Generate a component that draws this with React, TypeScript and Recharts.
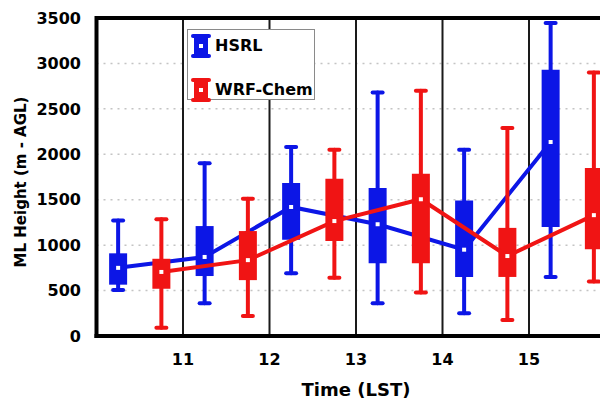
import React from 'react';
import {
  ComposedChart,
  XAxis,
  YAxis,
  CartesianGrid,
  Scatter,
  Line,
  ErrorBar,
  ReferenceLine,
  Label,
  Legend,
} from 'recharts';

// ---- data ----
const hsrlTimes = [10.25, 11.25, 12.25, 13.25, 14.25, 15.25];
const hsrlMin = [505, 360, 690, 360, 250, 650];
const hsrlQ1 = [565, 660, 1060, 800, 650, 1200];
const hsrlMed = [750, 870, 1420, 1230, 950, 2135];
const hsrlQ3 = [910, 1210, 1685, 1630, 1490, 2930];
const hsrlMax = [1270, 1900, 2080, 2680, 2050, 3445];

const wrfTimes = [10.75, 11.75, 12.75, 13.75, 14.75, 15.75];
const wrfMin = [90, 220, 640, 480, 175, 600];
const wrfQ1 = [520, 615, 1045, 800, 650, 955];
const wrfMed = [705, 835, 1265, 1505, 880, 1330];
const wrfQ3 = [850, 1155, 1730, 1785, 1190, 1850];
const wrfMax = [1285, 1510, 2050, 2700, 2290, 2900];

const xTicks = [11, 12, 13, 14, 15];
const yTicks = [0, 500, 1000, 1500, 2000, 2500, 3000, 3500];
const seriesNames = ['HSRL', 'WRF-Chem'];

const BLUE = '#0c16e6';
const RED = '#f01414';
const FONT = '"DejaVu Sans", Verdana, sans-serif';

function buildRows(t: number[], mn: number[], q1: number[], md: number[], q3: number[], mx: number[]) {
  return t.map((x, i) => ({
    x,
    med: md[i],
    whisk: [md[i] - mn[i], mx[i] - md[i]],
    box: [md[i] - q1[i], q3[i] - md[i]],
  }));
}

const hsrlRows = buildRows(hsrlTimes, hsrlMin, hsrlQ1, hsrlMed, hsrlQ3, hsrlMax);
const wrfRows = buildRows(wrfTimes, wrfMin, wrfQ1, wrfMed, wrfQ3, wrfMax);

const emptyShape = () => <g />;
const medianMarker = (p: any) => (
  <rect x={p.cx - 2} y={p.cy - 2} width={4} height={4} fill="#ffffff" />
);

const tickStyle = { fill: '#000', fontSize: 16, fontWeight: 'bold', fontFamily: FONT };

function LegendIcon({ color }: { color: string }) {
  return (
    <svg width={22} height={26} style={{ position: 'absolute', left: 0, top: 0 }}>
      <line x1={3} y1={3} x2={19} y2={3} stroke={color} strokeWidth={4} strokeLinecap="round" />
      <line x1={3} y1={23} x2={19} y2={23} stroke={color} strokeWidth={4} strokeLinecap="round" />
      <rect x={4} y={4} width={14} height={18} fill={color} />
      <rect x={9} y={11} width={4} height={4} fill="#fff" />
    </svg>
  );
}

function renderLegend() {
  const colors = [BLUE, RED];
  const tops = [3, 47];
  return (
    <div
      style={{
        position: 'relative',
        width: 126,
        height: 69,
        border: '1px solid #8a8a8a',
        background: '#fff',
        boxSizing: 'content-box',
      }}
    >
      {seriesNames.map((n, i) => (
        <div key={n} style={{ position: 'absolute', left: 2, top: tops[i], height: 26, width: 124 }}>
          <LegendIcon color={colors[i]} />
          <span
            style={{
              position: 'absolute',
              left: 25,
              top: 2,
              fontFamily: FONT,
              fontWeight: 'bold',
              fontSize: 16,
              lineHeight: '22px',
              color: '#000',
              whiteSpace: 'nowrap',
            }}
          >
            {n}
          </span>
        </div>
      ))}
    </div>
  );
}

export default function App() {
  return (
    <div style={{ width: 600, height: 392, overflow: 'hidden', position: 'relative' }}>
      <ComposedChart width={620} height={392} margin={{ top: 10, right: 12.5, bottom: 0, left: 0 }}>
        <CartesianGrid
          vertical={false}
          stroke="#c4c4c4"
          strokeWidth={1.5}
          strokeDasharray="2 5"
        />
        {xTicks.map((t) => (
          <ReferenceLine key={t} x={t} stroke="#1a1a1a" strokeWidth={2} />
        ))}
        <XAxis
          type="number"
          dataKey="x"
          domain={[10, 16]}
          ticks={xTicks}
          allowDataOverflow
          interval={0}
          height={64}
          tickLine={false}
          tickMargin={12}
          tick={tickStyle}
          axisLine={{ stroke: '#000', strokeWidth: 4, strokeLinecap: 'square' }}
        >
          <Label
            content={(p: any) => {
              const vb = p.viewBox || { x: 88.5, y: 328, width: 519, height: 64 };
              return (
                <text
                  x={vb.x + vb.width / 2}
                  y={vb.y + 60}
                  textAnchor="middle"
                  fontFamily={FONT}
                  fontWeight="bold"
                  fontSize={18}
                  fill="#000"
                >
                  Time (LST)
                </text>
              );
            }}
          />
        </XAxis>
        <YAxis
          type="number"
          domain={[0, 3500]}
          ticks={yTicks}
          interval={0}
          width={88.5}
          tickLine={false}
          tickMargin={9.5}
          tick={tickStyle}
          axisLine={{ stroke: '#000', strokeWidth: 4, strokeLinecap: 'square' }}
        >
          <Label
            content={(p: any) => {
              const vb = p.viewBox || { x: 0, y: 10, width: 88.5, height: 318 };
              const cx = vb.x + 13;
              const cy = vb.y + vb.height / 2 + 5;
              return (
                <text
                  x={cx}
                  y={cy}
                  transform={`rotate(-90 ${cx} ${cy})`}
                  textAnchor="middle"
                  dominantBaseline="central"
                  fontFamily={FONT}
                  fontWeight="bold"
                  fontSize={15}
                  fill="#000"
                >
                  ML Height (m - AGL)
                </text>
              );
            }}
          />
        </YAxis>
        <ReferenceLine y={3500} stroke="#000" strokeWidth={4} />

        {/* HSRL */}
        <Scatter name="HSRL-box" data={hsrlRows} dataKey="med" shape={emptyShape} isAnimationActive={false} legendType="none">
          <ErrorBar dataKey="whisk" direction="y" width={5} stroke={BLUE} strokeWidth={4} strokeLinecap="round" isAnimationActive={false} />
          <ErrorBar dataKey="box" direction="y" width={0} stroke={BLUE} strokeWidth={18} isAnimationActive={false} />
        </Scatter>
        <Line name="HSRL" data={hsrlRows} dataKey="med" stroke={BLUE} strokeWidth={4} dot={false} isAnimationActive={false} legendType="none" />
        <Scatter name="HSRL-med" data={hsrlRows} dataKey="med" shape={medianMarker} isAnimationActive={false} legendType="none" />

        {/* WRF-Chem */}
        <Scatter name="WRF-box" data={wrfRows} dataKey="med" shape={emptyShape} isAnimationActive={false} legendType="none">
          <ErrorBar dataKey="whisk" direction="y" width={5} stroke={RED} strokeWidth={4} strokeLinecap="round" isAnimationActive={false} />
          <ErrorBar dataKey="box" direction="y" width={0} stroke={RED} strokeWidth={18} isAnimationActive={false} />
        </Scatter>
        <Line name="WRF-Chem" data={wrfRows} dataKey="med" stroke={RED} strokeWidth={4} dot={false} isAnimationActive={false} legendType="none" />
        <Scatter name="WRF-med" data={wrfRows} dataKey="med" shape={medianMarker} isAnimationActive={false} legendType="none" />

        <Legend
          layout="vertical"
          align="center"
          verticalAlign="middle"
          content={renderLegend}
          wrapperStyle={{ left: 179, top: 21, width: 128, height: 71, right: 'auto', bottom: 'auto' }}
        />
      </ComposedChart>
    </div>
  );
}
